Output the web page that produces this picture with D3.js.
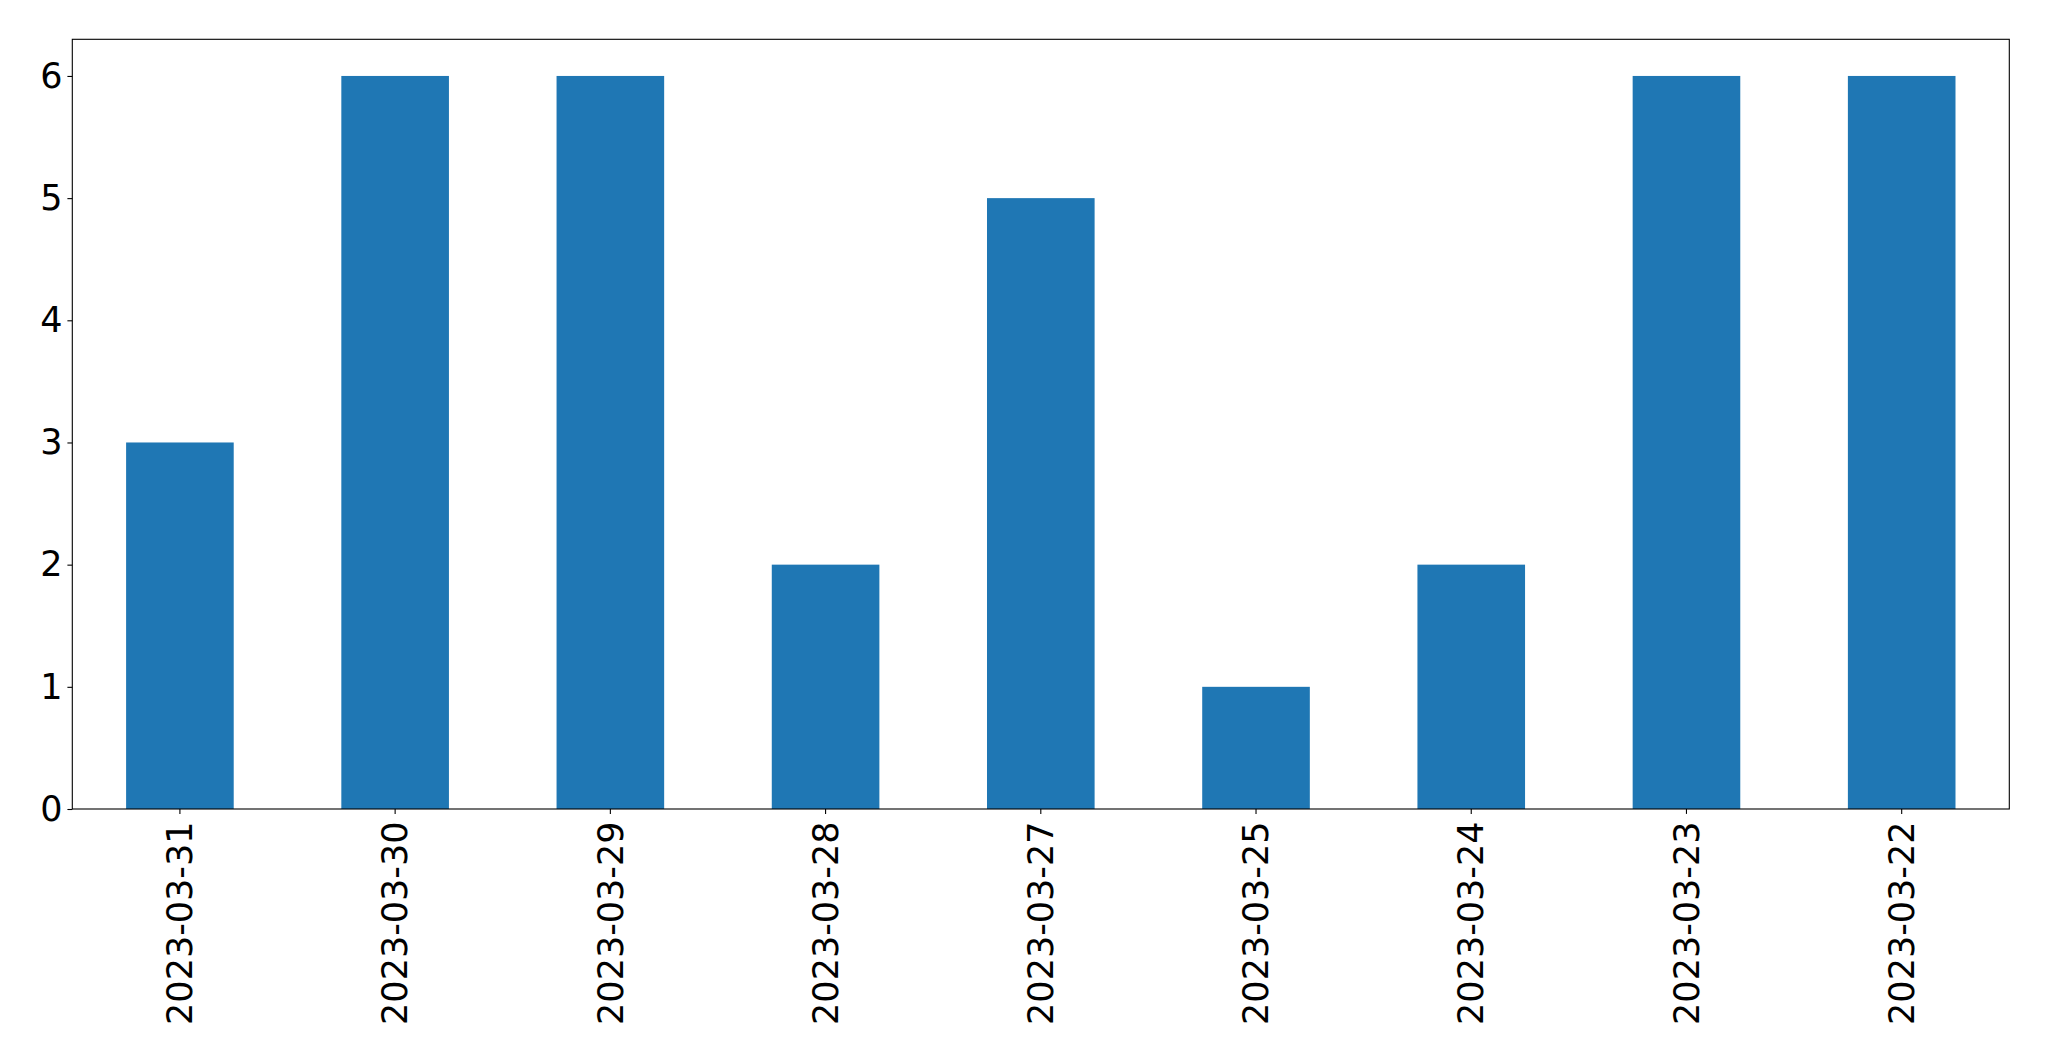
<!DOCTYPE html>
<html><head><meta charset="utf-8">
<script src="https://cdn.jsdelivr.net/npm/d3@7"></script>
<style>body{margin:0;background:#fff}svg{display:block}text{font-family:"DejaVu Sans",sans-serif}</style>
</head><body>
<script>
const categories = ["2023-03-31","2023-03-30","2023-03-29","2023-03-28","2023-03-27","2023-03-25","2023-03-24","2023-03-23","2023-03-22"];
const values = [3,6,6,2,5,1,2,6,6];
const yTicks = [0,1,2,3,4,5,6];

const W = 2049, H = 1061;
const m = {left:72.3, right:2049-2009.3, top:39.3, bottom:1061-809};
const svg = d3.select("body").append("svg").attr("width",W).attr("height",H);
const x = d3.scaleBand().domain(categories).range([m.left, W-m.right]).paddingInner(0.5).paddingOuter(0.25);
const y = d3.scaleLinear().domain([0, 6.3]).range([H-m.bottom, m.top]);

svg.append("g").selectAll("rect").data(values).join("rect")
  .attr("x",(d,i)=>x(categories[i])).attr("width",x.bandwidth())
  .attr("y",d=>y(d)).attr("height",d=>y(0)-y(d)).attr("fill","#1f77b4");

svg.append("rect").attr("x",m.left).attr("y",m.top).attr("width",W-m.right-m.left).attr("height",H-m.bottom-m.top)
  .attr("fill","none").attr("stroke","#000").attr("stroke-width",1.1);

const ya = svg.append("g").attr("transform",`translate(${m.left},0)`)
  .call(d3.axisLeft(y).tickValues(yTicks).tickFormat(d3.format("d")).tickSize(4.9).tickPadding(5));
ya.select(".domain").remove();
ya.selectAll("text").attr("font-size",35).attr("fill","#000").attr("font-family","DejaVu Sans");
ya.selectAll("line").attr("stroke","#000").attr("stroke-width",1.1);

const xa = svg.append("g").attr("transform",`translate(0,${H-m.bottom})`)
  .call(d3.axisBottom(x).tickSize(4.9).tickPadding(0));
xa.select(".domain").remove();
xa.selectAll("line").attr("stroke","#000").attr("stroke-width",1.1);
xa.selectAll("text").attr("font-size",35).attr("fill","#000").attr("font-family","DejaVu Sans")
  .attr("text-anchor","end").attr("y",0).attr("dy","0.35em")
  .attr("transform","translate(0,12.5) rotate(-90)");
</script>
</body></html>
